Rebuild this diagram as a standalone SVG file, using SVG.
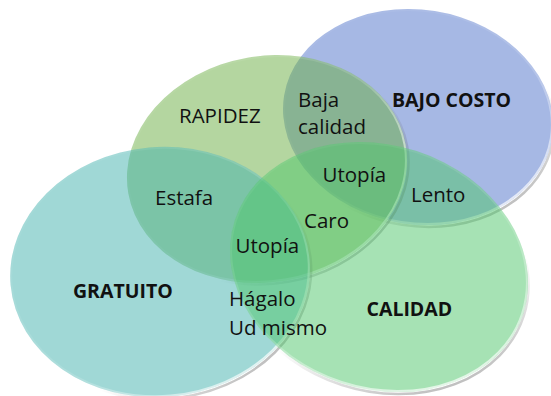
<svg xmlns="http://www.w3.org/2000/svg" width="551" height="396" viewBox="0 0 551 396">
<style>
.fill{fill-opacity:0.5;}
.hl{fill:none;stroke:url(#hl);stroke-width:2;}
.sh{fill:none;stroke:url(#sh);stroke-width:2.5;}
text{font-family:"Open Sans","Noto Sans","Liberation Sans",sans-serif;font-size:20.5px;fill:#111;}
.b{font-weight:bold;font-size:19.5px;}
</style>
<defs>
<linearGradient id="hl" x1="0" y1="0" x2="1" y2="1">
<stop offset="0" stop-color="#fff" stop-opacity="0"/>
<stop offset="0.55" stop-color="#fff" stop-opacity="0.15"/>
<stop offset="1" stop-color="#fff" stop-opacity="0.95"/>
</linearGradient>
<linearGradient id="sh" x1="0" y1="0" x2="1" y2="1">
<stop offset="0" stop-color="#666" stop-opacity="0"/>
<stop offset="0.6" stop-color="#666" stop-opacity="0"/>
<stop offset="1" stop-color="#555" stop-opacity="0.6"/>
</linearGradient>
</defs>
<g id="bajo-costo">
<g transform="translate(418,117) rotate(9)">
<ellipse class="sh" cx="1.2" cy="1.8" rx="135.6" ry="107.2"/>
<ellipse class="fill" fill="#4d71c9" rx="135.6" ry="107.2"/>
<ellipse class="hl" rx="134.5" ry="106.2"/>
</g>
</g>
<g id="rapidez">
<g transform="translate(267,169) rotate(-10)">
<ellipse class="sh" cx="1.2" cy="1.8" rx="140.8" ry="113"/>
<ellipse class="fill" fill="#69ad41" rx="140.8" ry="113"/>
<ellipse class="hl" rx="139.7" ry="112"/>
</g>
</g>
<g id="gratuito">
<g transform="translate(160,272) rotate(-5)">
<ellipse class="sh" cx="1.2" cy="1.8" rx="150" ry="125"/>
<ellipse class="fill" fill="#41b1ad" rx="150" ry="125"/>
<ellipse class="hl" rx="149" ry="124"/>
</g>
</g>
<g id="calidad">
<g transform="translate(379,267) rotate(18)">
<ellipse class="sh" cx="1.2" cy="1.8" rx="151.6" ry="121.9"/>
<ellipse class="fill" fill="#4dc569" rx="151.6" ry="121.9"/>
<ellipse class="hl" rx="150.5" ry="120.9"/>
</g>
</g>
<g id="connectors"/>
<g id="labels">
<text x="179" y="122.7">RAPIDEZ</text>
<text x="298" y="106.5">Baja</text>
<text x="298" y="134">calidad</text>
<text class="b" x="392" y="106.7">BAJO COSTO</text>
<text x="322.5" y="181.7">Utopía</text>
<text x="155" y="204.5">Estafa</text>
<text x="411" y="201.7">Lento</text>
<text x="304" y="228">Caro</text>
<text x="235.5" y="253.3">Utopía</text>
<text class="b" x="73" y="298.3">GRATUITO</text>
<text x="229" y="306">Hágalo</text>
<text x="229" y="335">Ud mismo</text>
<text class="b" x="366.5" y="316">CALIDAD</text>
</g>
</svg>
